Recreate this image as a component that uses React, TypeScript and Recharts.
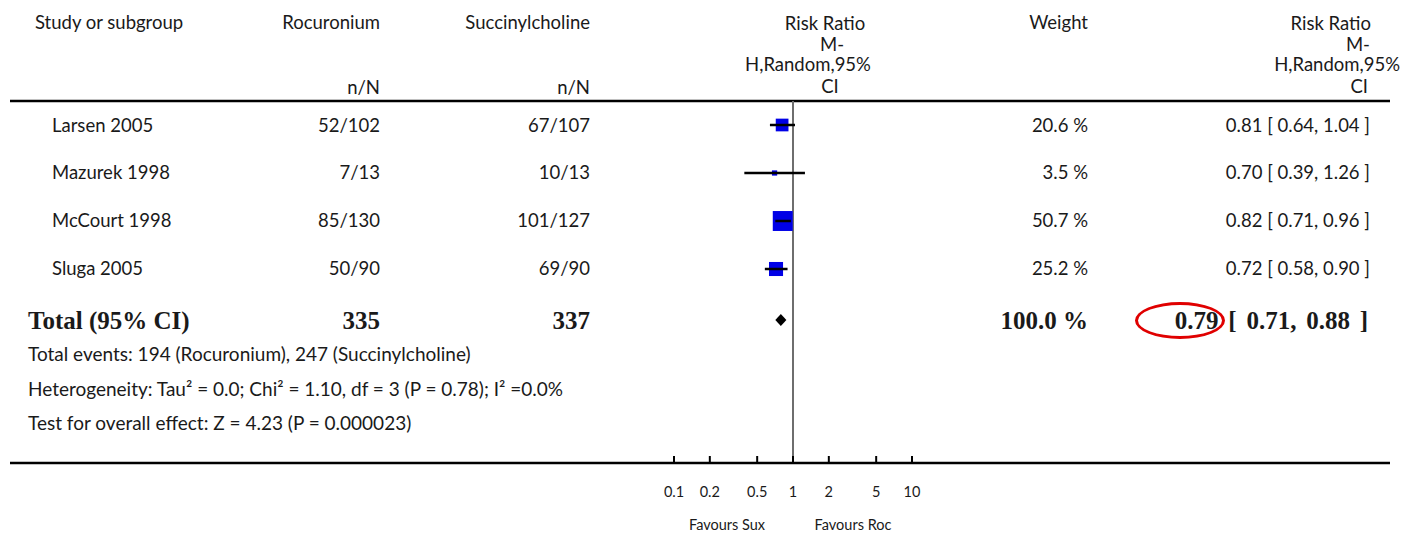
import React from "react";
import {
  ComposedChart,
  Scatter,
  XAxis,
  YAxis,
  ReferenceLine,
  ReferenceArea,
} from "recharts";

// ---- data ----
const studies = ["Larsen 2005", "Mazurek 1998", "McCourt 1998", "Sluga 2005"];
const rocEvents = ["52/102", "7/13", "85/130", "50/90"];
const suxEvents = ["67/107", "10/13", "101/127", "69/90"];
const weights = [20.6, 3.5, 50.7, 25.2];
const riskRatio = [0.81, 0.7, 0.82, 0.72];
const ciLow = [0.64, 0.39, 0.71, 0.58];
const ciHigh = [1.04, 1.26, 0.96, 0.9];
const rowIndex = [0.5, 1.5, 2.5, 3.5];

const totalRoc = 335;
const totalSux = 337;
const totalRR = 0.79;
const totalLow = 0.71;
const totalHigh = 0.88;
const totalRow = 4.56;

const xTicks = [0.1, 0.2, 0.5, 1, 2, 5, 10];

const footnotes = [
  "Total events: 194 (Rocuronium), 247 (Succinylcholine)",
  "Heterogeneity: Tau² = 0.0; Chi² = 1.10, df = 3 (P = 0.78); I² =0.0%",
  "Test for overall effect: Z = 4.23 (P = 0.000023)",
];

const points = studies.map((s, i) => ({
  name: s,
  rr: riskRatio[i],
  row: rowIndex[i],
  weight: weights[i],
}));

// each CI as a two-point series joined by a line
const ciSeries = studies.map((s, i) => [
  { rr: ciLow[i], row: rowIndex[i] },
  { rr: ciHigh[i], row: rowIndex[i] },
]);

// layout
const W = 1422;
const H = 534;
const PLOT_LEFT = 10;
const PLOT_RIGHT = 1390;
const PLOT_TOP = 101;
const PLOT_BOTTOM = 463;
const ONE_X = 793; // pixel where RR = 1
const DECADE = 119; // px per log decade
const xDomain = [
  Math.pow(10, (PLOT_LEFT - ONE_X) / DECADE),
  Math.pow(10, (PLOT_RIGHT - ONE_X) / DECADE),
];
const ROW_PX = 48;
const yDomain = [0, (PLOT_BOTTOM - PLOT_TOP) / ROW_PX];

const rowY = [125, 172, 220, 268];
const totalY = 320;

const sans = "Lato, 'Open Sans', sans-serif";
const serif = "'Liberation Serif', 'DejaVu Serif', serif";

function Txt({
  x,
  y,
  align = "left",
  children,
  size = 18.5,
  bold = false,
  font = sans,
  wordSpacing = 0,
}: {
  x: number;
  y: number;
  align?: "left" | "right" | "center";
  children: React.ReactNode;
  size?: number;
  bold?: boolean;
  font?: string;
  wordSpacing?: number;
}) {
  const style: React.CSSProperties = {
    position: "absolute",
    top: y,
    fontFamily: font,
    fontSize: size,
    fontWeight: bold ? 700 : 400,
    color: "#1a1a1a",
    whiteSpace: "nowrap",
    lineHeight: 1,
    wordSpacing,
    transform:
      align === "center" ? "translate(-50%, -50%)" : "translateY(-50%)",
  };
  if (align === "right") style.right = W - x;
  else style.left = x;
  return <div style={style}>{children}</div>;
}

const SquareMark = (props: any) => {
  const { cx, cy, payload } = props;
  const side = 2.8 * Math.sqrt(payload.weight);
  return (
    <rect
      x={cx - side / 2}
      y={cy - side / 2}
      width={side}
      height={side}
      fill="#0000e6"
    />
  );
};

const NoMark = () => <g />;

const Diamond = (props: any) => {
  const { x, y, width, height } = props;
  const top = height < 0 ? y + height : y;
  const h = Math.abs(height);
  const cy = top + h / 2;
  return (
    <polygon
      points={`${x},${cy} ${x + width / 2},${top} ${x + width},${cy} ${x + width / 2},${top + h}`}
      fill="#000"
    />
  );
};

const AxisTick = (props: any) => {
  const { x, y, payload } = props;
  return (
    <g>
      <line x1={x} x2={x} y1={y - 7} y2={y} stroke="#000" strokeWidth={2} />
      <text
        x={x}
        y={y + 34}
        textAnchor="middle"
        fontFamily={sans}
        fontSize={14.5}
        fill="#1a1a1a"
      >
        {String(payload.value)}
      </text>
    </g>
  );
};

export default function App() {
  return (
    <div
      style={{
        position: "absolute",
        left: 0,
        top: 0,
        width: W,
        height: H,
        background: "#fff",
        overflow: "hidden",
      }}
    >
      <ComposedChart
        width={W}
        height={H}
        data={points}
        margin={{
          top: PLOT_TOP,
          bottom: H - PLOT_BOTTOM - 60,
          left: PLOT_LEFT,
          right: W - PLOT_RIGHT,
        }}
      >
        <XAxis
          dataKey="rr"
          type="number"
          scale="log"
          domain={xDomain}
          allowDataOverflow
          ticks={xTicks}
          interval={0}
          height={60}
          tickSize={0}
          tickMargin={0}
          tickLine={false}
          tick={<AxisTick />}
          axisLine={{ stroke: "#000", strokeWidth: 2.5 }}
        />
        <YAxis
          dataKey="row"
          type="number"
          domain={yDomain}
          reversed
          hide
          allowDataOverflow
        />
        <ReferenceLine y={yDomain[0]} stroke="#000" strokeWidth={2.5} />
        <ReferenceLine x={1} stroke="#6e6e6e" strokeWidth={2} />
        <Scatter
          data={points}
          dataKey="row"
          shape={<SquareMark />}
          isAnimationActive={false}
        />
        {ciSeries.map((d, i) => (
          <Scatter
            key={studies[i]}
            data={d}
            dataKey="row"
            line={{ stroke: "#000", strokeWidth: 2.5 }}
            lineType="joint"
            shape={<NoMark />}
            isAnimationActive={false}
          />
        ))}
        <ReferenceArea
          x1={totalLow}
          x2={totalHigh}
          y1={totalRow - 0.125}
          y2={totalRow + 0.125}
          shape={<Diamond />}
        />
      </ComposedChart>

      {/* header */}
      <Txt x={35} y={22}>Study or subgroup</Txt>
      <Txt x={380} y={22} align="right">Rocuronium</Txt>
      <Txt x={590} y={22} align="right">Succinylcholine</Txt>
      <Txt x={825} y={23} align="center">Risk Ratio</Txt>
      <Txt x={832} y={44} align="center">M-</Txt>
      <Txt x={808} y={64} align="center">H,Random,95%</Txt>
      <Txt x={830} y={86} align="center">CI</Txt>
      <Txt x={1088} y={22} align="right">Weight</Txt>
      <Txt x={1371} y={23} align="right">Risk Ratio</Txt>
      <Txt x={1370} y={44} align="right">M-</Txt>
      <Txt x={1400} y={64} align="right">H,Random,95%</Txt>
      <Txt x={1368} y={86} align="right">CI</Txt>
      <Txt x={380} y={87} align="right">n/N</Txt>
      <Txt x={590} y={87} align="right">n/N</Txt>

      {/* study rows */}
      {studies.map((s, i) => (
        <React.Fragment key={s}>
          <Txt x={52} y={rowY[i]}>{s}</Txt>
          <Txt x={380} y={rowY[i]} align="right">{rocEvents[i]}</Txt>
          <Txt x={590} y={rowY[i]} align="right">{suxEvents[i]}</Txt>
          <Txt x={1088} y={rowY[i]} align="right">{`${weights[i].toFixed(1)} %`}</Txt>
          <Txt x={1370} y={rowY[i]} align="right">
            {`${riskRatio[i].toFixed(2)} [ ${ciLow[i].toFixed(2)}, ${ciHigh[i].toFixed(2)} ]`}
          </Txt>
        </React.Fragment>
      ))}

      {/* total */}
      <Txt x={28} y={totalY} size={25} bold font={serif}>Total (95% CI)</Txt>
      <Txt x={380} y={totalY} align="right" size={25} bold font={serif}>{totalRoc}</Txt>
      <Txt x={590} y={totalY} align="right" size={25} bold font={serif}>{totalSux}</Txt>
      <Txt x={1088} y={totalY} align="right" size={25} bold font={serif}>100.0 %</Txt>
      <Txt x={1368} y={totalY} align="right" size={25} bold font={serif} wordSpacing={3.5}>
        {`${totalRR.toFixed(2)} [ ${totalLow.toFixed(2)}, ${totalHigh.toFixed(2)} ]`}
      </Txt>
      <div
        style={{
          position: "absolute",
          left: 1135,
          top: 302,
          width: 90,
          height: 37,
          border: "3px solid #e00000",
          borderRadius: "50%",
          boxSizing: "border-box",
        }}
      />

      {/* footnotes */}
      {footnotes.map((f, i) => (
        <Txt key={f} x={28} y={[353, 388, 422][i]} size={19}>{f}</Txt>
      ))}

      {/* axis captions */}
      <Txt x={727} y={525} align="center" size={14.5}>Favours Sux</Txt>
      <Txt x={853} y={525} align="center" size={14.5}>Favours Roc</Txt>
    </div>
  );
}
